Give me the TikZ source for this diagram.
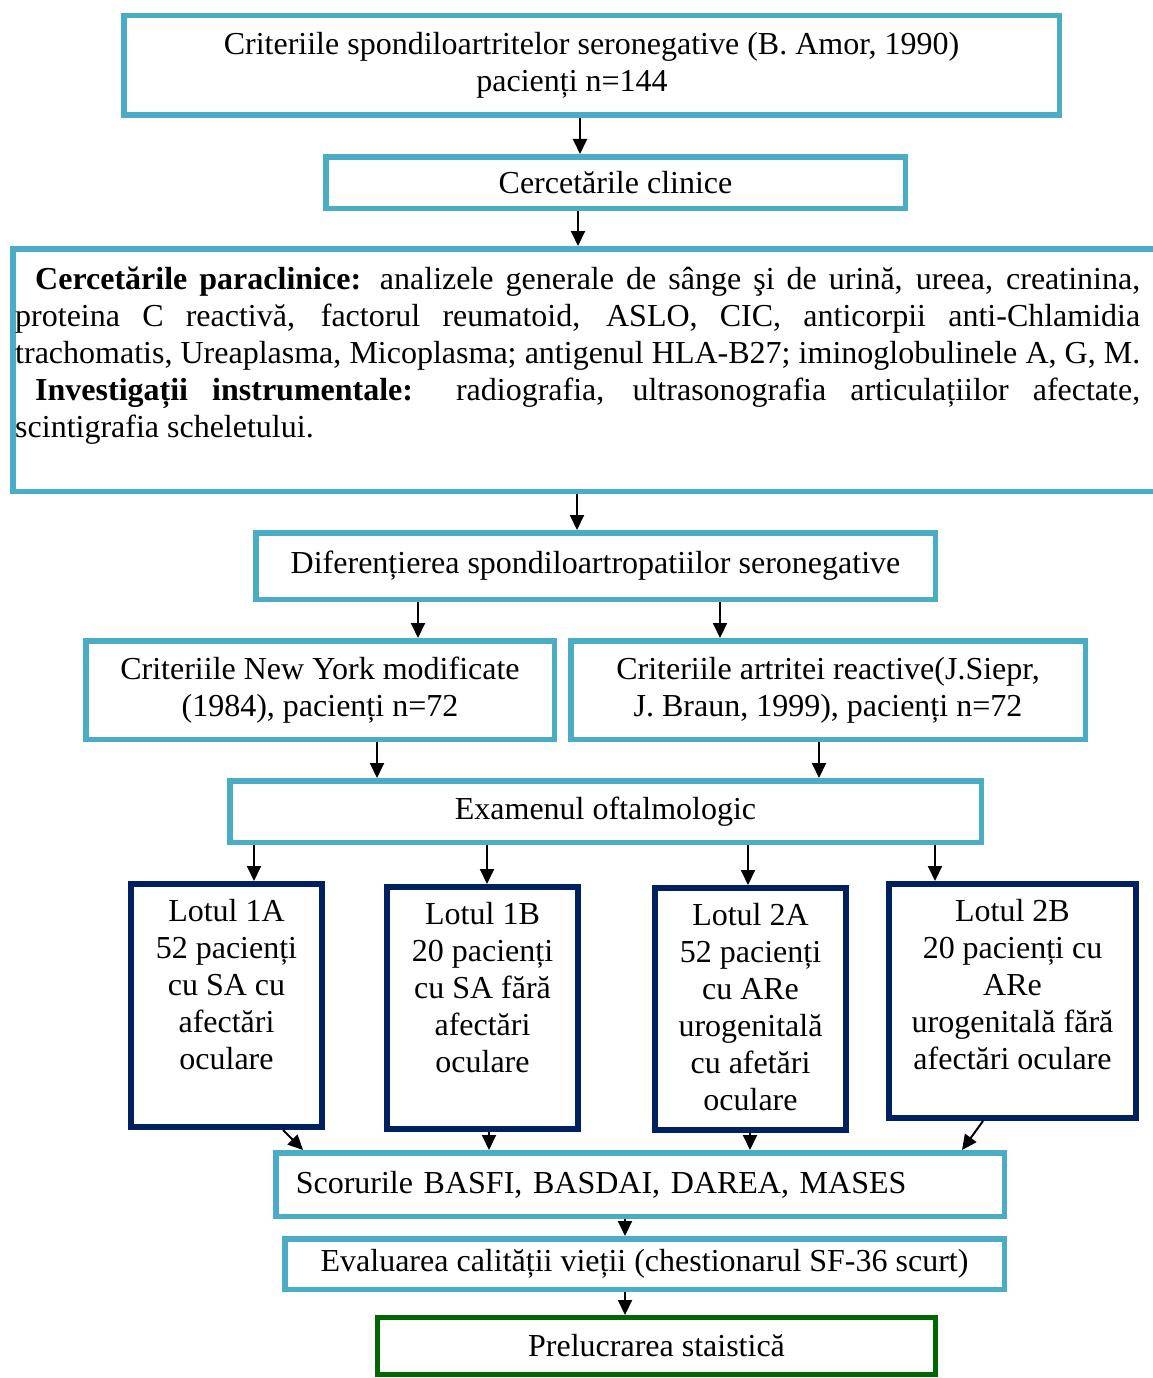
\documentclass[tikz,border=0pt]{standalone}
\usepackage{fontspec}
\setmainfont{Liberation Serif}
\usetikzlibrary{arrows.meta}
\definecolor{aqua}{HTML}{4BACC6}
\definecolor{navyc}{HTML}{002060}
\definecolor{dgreen}{HTML}{006600}
\newcommand{\lottxt}[3]{\parbox[c][#1][t]{#2}{\centering\vspace*{12pt}\strut #3}}
\begin{document}
\begin{tikzpicture}[x=1pt,y=-1pt,
  font=\fontsize{32}{37}\selectfont,
  bbox/.style={draw=aqua, line width=5.5pt, inner sep=0pt, align=center},
  lbox/.style={draw=navyc, line width=6pt, inner sep=0pt},
  gbox/.style={draw=dgreen, line width=5pt, inner sep=0pt, align=center},
  arr/.style={line width=2pt, -{Triangle[length=15pt,width=14pt]}}]
\clip (0,0) rectangle (1153,1378);
\fill[white] (0,0) rectangle (1153,1378);

\node[bbox, minimum width=935.5pt, minimum height=99.5pt] (top) at (591.5,65.5)
  {\raisebox{-1.5pt}{Criteriile spondiloartritelor seronegative (B. Amor, 1990)}\\\raisebox{-1.5pt}{pacienți n=144}\hspace*{39pt}};
\node[bbox, minimum width=579.5pt, minimum height=51.5pt] (clin) at (615.5,182.5)
  {\raisebox{-3pt}{Cercetările clinice}};
\node[bbox, minimum width=1154.5pt, minimum height=242.5pt] (para) at (590,370) {};
\node[anchor=north west, inner sep=0pt] (ptext) at (15,263.1) {\parbox[t]{1125pt}{%
\hbox to 1125pt{\strut\hspace*{20pt}\textbf{Cercetările paraclinice:} analizele generale de sânge şi de urină, ureea, creatinina,}
\hbox to 1125pt{\strut proteina C reactivă, factorul reumatoid, ASLO, CIC, anticorpii anti-Chlamidia}
\hbox to 1125pt{\strut trachomatis, Ureaplasma, Micoplasma; antigenul HLA-B27; iminoglobulinele A, G, M.}
\hbox to 1125pt{\strut\hspace*{20pt}\textbf{Investigații instrumentale:} radiografia, ultrasonografia articulațiilor afectate,}
\hbox{\strut scintigrafia scheletului.}}};
\node[bbox, minimum width=679.5pt, minimum height=66.5pt] (dif) at (595.5,566)
  {Diferențierea spondiloartropatiilor seronegative};
\node[bbox, minimum width=468.5pt, minimum height=98.5pt] (ny) at (320,690)
  {\raisebox{-1.5pt}{Criteriile New York modificate}\\\raisebox{-1.5pt}{(1984), pacienți n=72}};
\node[bbox, minimum width=514.5pt, minimum height=98.5pt] (ar) at (828,690)
  {\raisebox{-1.5pt}{Criteriile artritei reactive(J.Siepr,}\\\raisebox{-1.5pt}{J. Braun, 1999), pacienți n=72}};
\node[bbox, minimum width=751.5pt, minimum height=61.5pt] (ex) at (605.5,811.5)
  {\raisebox{-1.5pt}{Examenul oftalmologic}};

\node[lbox] (l1a) at (226.5,1005.5)
  {\lottxt{243pt}{191pt}{Lotul 1A\\52 pacienți\\cu SA cu\\afectări\\oculare}};
\node[lbox] (l1b) at (482.5,1008)
  {\lottxt{242pt}{191pt}{Lotul 1B\\20 pacienți\\cu SA fără\\afectări\\oculare}};
\node[lbox] (l2a) at (750.5,1009)
  {\lottxt{242pt}{191pt}{Lotul 2A\\52 pacienți\\cu ARe\\urogenitală\\cu afetări\\oculare}};
\node[lbox] (l2b) at (1012.5,1001)
  {\lottxt{234pt}{247pt}{Lotul 2B\\20 pacienți cu\\ARe\\urogenitală fără\\afectări oculare}};

\node[bbox, minimum width=728.5pt, minimum height=63.5pt, text width=688.5pt, align=left, inner xsep=20pt] (sc) at (640,1184.5)
  {Scorurile BASFI, BASDAI, DAREA, MASES};
\node[bbox, minimum width=719.5pt, minimum height=50.5pt] (ev) at (644.5,1264)
  {\raisebox{-5pt}{Evaluarea calității vieții (chestionarul SF-36 scurt)}};
\node[gbox, minimum width=558pt, minimum height=57pt] (pr) at (656.5,1346)
  {\raisebox{-2pt}{Prelucrarea staistică}};

\draw[arr] ([xshift=-11.5pt]top.south) -- ([xshift=-35.5pt]clin.north);
\draw[arr] ([xshift=-37.5pt]clin.south) -- ([xshift=-12pt]para.north);
\draw[arr] ([xshift=-13pt]para.south) -- ([xshift=-18.5pt]dif.north);
\draw[arr] ([xshift=-177.5pt]dif.south) -- ([xshift=98pt]ny.north);
\draw[arr] ([xshift=124.5pt]dif.south) -- ([xshift=-108pt]ar.north);
\draw[arr] ([xshift=57pt]ny.south) -- ([xshift=-228.5pt]ex.north);
\draw[arr] ([xshift=-9pt]ar.south) -- ([xshift=213.5pt]ex.north);
\draw[arr] ([xshift=-351.5pt]ex.south) -- ([xshift=27.5pt]l1a.north);
\draw[arr] ([xshift=-118.5pt]ex.south) -- ([xshift=4.5pt]l1b.north);
\draw[arr] ([xshift=142.5pt]ex.south) -- ([xshift=-2.5pt]l2a.north);
\draw[arr] ([xshift=329.5pt]ex.south) -- ([xshift=-77.5pt]l2b.north);
\draw[arr] ([xshift=56.5pt]l1a.south) -- ([xshift=-337pt]sc.north);
\draw[arr] ([xshift=6.5pt]l1b.south) -- ([xshift=-151pt]sc.north);
\draw[arr] ([xshift=-0.5pt]l2a.south) -- ([xshift=110pt]sc.north);
\draw[arr] ([xshift=-29.5pt]l2b.south) -- ([xshift=322pt]sc.north);
\draw[arr] ([xshift=-15pt]sc.south) -- ([xshift=-19.5pt]ev.north);
\draw[arr] ([xshift=-19.5pt]ev.south) -- ([xshift=-31.5pt]pr.north);
\end{tikzpicture}
\end{document}
